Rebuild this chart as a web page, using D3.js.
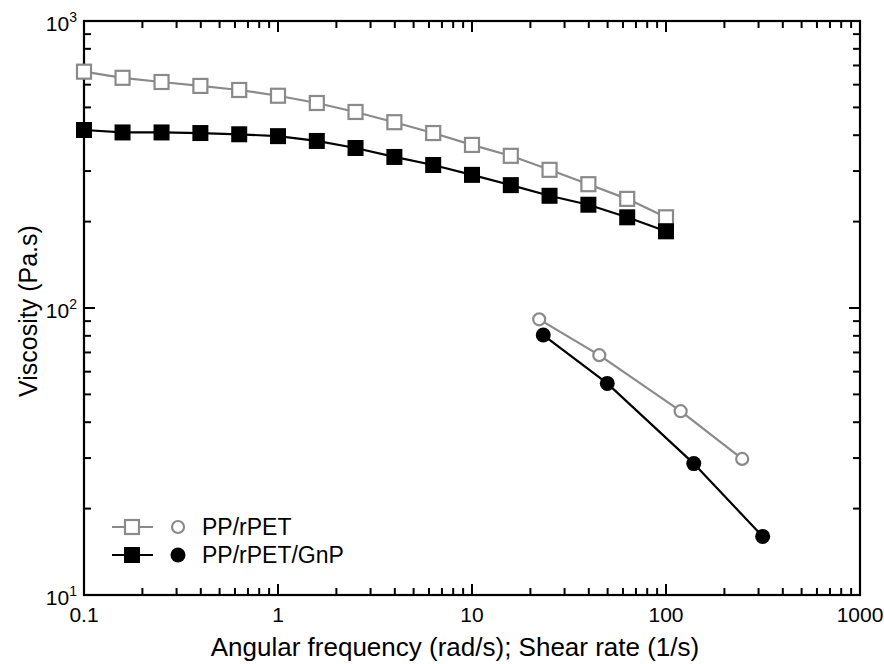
<!DOCTYPE html>
<html><head><meta charset="utf-8">
<script src="https://cdn.jsdelivr.net/npm/d3@7"></script>
<style>body{margin:0;background:#fff}svg{display:block}text{font-family:"Liberation Sans",Arial,sans-serif}</style>
</head><body><svg id="c" width="884" height="664"></svg>
<script>
// Oscillatory (angular frequency) data, squares
const freq = [0.1, 0.158, 0.251, 0.398, 0.631, 1, 1.585, 2.51, 3.98, 6.31, 10, 15.85, 25.1, 39.8, 63.1, 100];
const ppRpetOsc = [666, 634, 613, 594, 575, 549, 518, 482, 444, 407, 370, 339, 303, 270, 240, 207];
const ppRpetGnpOsc = [417, 409, 409, 407, 403, 397, 382, 361, 336, 315, 291, 268, 246, 229, 207, 185];
// Capillary (shear rate) data, circles
const shearRpet = [22.2, 45.3, 119, 247];
const ppRpetCap = [91.3, 68.5, 43.7, 29.8];
const shearGnp = [23.3, 49.8, 139, 315];
const ppRpetGnpCap = [80.5, 54.6, 28.7, 16.0];
const xTicks = [0.1, 1, 10, 100, 1000];
const xTickLabels = ["0.1", "1", "10", "100", "1000"];
const yTicks = [10, 100, 1000];
const yTickExp = ["1", "2", "3"];
const legendLabels = ["PP/rPET", "PP/rPET/GnP"];
const GREY = "#8a8a8a", BLACK = "#000";

const svg = d3.select("#c");
const L = 84, R = 860, T = 21, B = 595;
const x = d3.scaleLog().domain([0.1, 1000]).range([L, R]);
const y = d3.scaleLog().domain([10, 1000]).range([B, T]);

// minor tick values
const xMinor = [], yMinor = [];
[0.1, 1, 10, 100].forEach(d => { for (let k = 2; k <= 9; k++) xMinor.push(d * k); });
[10, 100].forEach(d => { for (let k = 2; k <= 9; k++) yMinor.push(d * k); });

const ax = svg.append("g").attr("stroke", "#000").attr("stroke-width", 2);
const MAJ = 11, MIN = 7;
xTicks.forEach(v => {
  ax.append("line").attr("x1", x(v)).attr("x2", x(v)).attr("y1", B).attr("y2", B - MAJ);
  ax.append("line").attr("x1", x(v)).attr("x2", x(v)).attr("y1", T).attr("y2", T + MAJ);
});
xMinor.forEach(v => {
  ax.append("line").attr("x1", x(v)).attr("x2", x(v)).attr("y1", B).attr("y2", B - MIN);
  ax.append("line").attr("x1", x(v)).attr("x2", x(v)).attr("y1", T).attr("y2", T + MIN);
});
yTicks.forEach(v => {
  ax.append("line").attr("y1", y(v)).attr("y2", y(v)).attr("x1", L).attr("x2", L + MAJ);
  ax.append("line").attr("y1", y(v)).attr("y2", y(v)).attr("x1", R).attr("x2", R - MAJ);
});
yMinor.forEach(v => {
  ax.append("line").attr("y1", y(v)).attr("y2", y(v)).attr("x1", L).attr("x2", L + MIN);
  ax.append("line").attr("y1", y(v)).attr("y2", y(v)).attr("x1", R).attr("x2", R - MIN);
});
svg.append("rect").attr("x", L).attr("y", T).attr("width", R - L).attr("height", B - T)
  .attr("fill", "none").attr("stroke", "#000").attr("stroke-width", 2.2);

// tick labels
xTicks.forEach((v, i) => {
  svg.append("text").attr("x", x(v)).attr("y", B + 27).attr("text-anchor", "middle")
    .attr("font-size", 21).text(xTickLabels[i]);
});
yTicks.forEach((v, i) => {
  const t = svg.append("text").attr("x", L - 7).attr("y", y(v) + 10).attr("text-anchor", "end").attr("font-size", 21);
  t.append("tspan").text("10");
  t.append("tspan").attr("font-size", 14).attr("dy", -9).text(yTickExp[i]);
});

// axis titles
svg.append("text").attr("x", 455).attr("y", 656).attr("text-anchor", "middle")
  .attr("font-size", 26).text("Angular frequency (rad/s); Shear rate (1/s)");
svg.append("text").attr("transform", "translate(37,311) rotate(-90)").attr("text-anchor", "middle")
  .attr("font-size", 25).text("Viscosity (Pa.s)");

const line = d3.line().x(d => x(d[0])).y(d => y(d[1]));
function series(xs, ys, color, shape, filled) {
  const pts = xs.map((v, i) => [v, ys[i]]);
  svg.append("path").datum(pts).attr("d", line).attr("fill", "none").attr("stroke", color).attr("stroke-width", 2.2);
  const g = svg.append("g");
  if (shape === "sq") {
    const s = filled ? 16 : 14;
    g.selectAll("rect").data(pts).join("rect")
      .attr("x", d => x(d[0]) - s / 2).attr("y", d => y(d[1]) - s / 2).attr("width", s).attr("height", s)
      .attr("fill", filled ? color : "#fff").attr("stroke", color).attr("stroke-width", filled ? 0 : 2.2);
  } else {
    g.selectAll("circle").data(pts).join("circle")
      .attr("cx", d => x(d[0])).attr("cy", d => y(d[1])).attr("r", filled ? 7.5 : 6)
      .attr("fill", filled ? color : "#fff").attr("stroke", color).attr("stroke-width", filled ? 0 : 2.2);
  }
}
series(freq, ppRpetOsc, GREY, "sq", false);
series(freq, ppRpetGnpOsc, BLACK, "sq", true);
series(shearRpet, ppRpetCap, GREY, "ci", false);
series(shearGnp, ppRpetGnpCap, BLACK, "ci", true);

// legend
const leg = svg.append("g");
[[GREY, false, 527], [BLACK, true, 555]].forEach(([c, f, ly], i) => {
  leg.append("line").attr("x1", 112).attr("x2", 153).attr("y1", ly).attr("y2", ly).attr("stroke", c).attr("stroke-width", 2.2);
  const s = f ? 16 : 14;
  leg.append("rect").attr("x", 132 - s / 2).attr("y", ly - s / 2).attr("width", s).attr("height", s)
    .attr("fill", f ? c : "#fff").attr("stroke", c).attr("stroke-width", f ? 0 : 2.2);
  leg.append("circle").attr("cx", 178).attr("cy", ly).attr("r", f ? 7.5 : 6)
    .attr("fill", f ? c : "#fff").attr("stroke", c).attr("stroke-width", f ? 0 : 2.2);
  leg.append("text").attr("x", 202).attr("y", ly + 8).attr("font-size", 23).text(legendLabels[i]);
});
</script></body></html>
